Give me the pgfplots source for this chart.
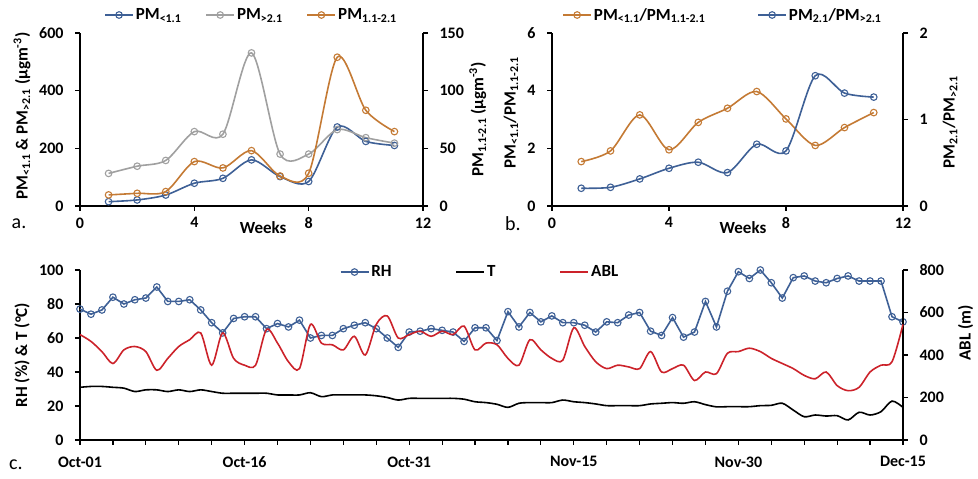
\documentclass[border=0pt]{standalone}
\usepackage{fontspec}
\setmainfont{Carlito}
\usepackage{pgfplots}
\usepackage{pgfplotstable}
\pgfplotsset{compat=1.18}

\definecolor{cblue}{RGB}{62,96,150}
\definecolor{cgray}{RGB}{160,160,160}
\definecolor{corange}{RGB}{196,122,52}
\definecolor{cred}{RGB}{204,34,42}
\newcommand\ff{\bfseries\fontsize{16}{19}\selectfont}
\newcommand\fl{\bfseries\fontsize{17}{20}\selectfont}

% day, RH (%), T (C), ABL (m)
\pgfplotstableread{
d rh t abl
0 77 31 496
1 74 31.5 464
2 76.5 31.5 416
3 84 31 360
4 80 30.5 424
5 82.5 28.5 440
6 83.5 29.5 416
7 90 29.5 328
8 81.5 28.5 384
9 81.5 29.5 440
10 82.5 28.5 472
11 76.5 29.5 504
12 69 28.5 352
13 63 27.5 504
14 71.5 27.5 384
15 72.5 27.5 352
16 72.5 27.5 352
17 65.5 27.5 520
18 68.5 26.5 456
19 66.5 26.5 368
20 70.5 26.5 336
21 60 27.8 544
22 61.5 25.5 456
23 61.5 26.5 448
24 65.5 26.5 424
25 67.5 26.5 488
26 69 26.5 400
27 65.5 26 544
28 60 25 584
29 54.5 23.5 480
30 63.5 24.5 496
31 64 24.5 512
32 65.5 24.5 488
33 64.5 24.5 512
34 63.5 24.5 496
35 58 24 536
36 66 22.5 424
37 66 22 456
38 58.5 21 448
39 75.5 19.2 384
40 66.5 21.6 352
41 75 22 472
42 69.5 22 424
43 73 22 384
44 69 23.5 376
45 69 22.5 528
46 67.5 22 440
47 63.5 21.2 368
48 69.5 20.2 336
49 69 20.2 352
50 73.5 20.2 344
51 75 20.2 336
52 64 21.2 416
53 61.5 21.6 320
54 72 22 336
55 60.5 21.6 352
56 63.5 22.5 280
57 81.5 20.8 320
58 66.5 19.5 312
59 87.5 19.6 408
60 99 19.6 416
61 95 19.6 432
62 100 20.2 416
63 92.5 20.4 384
64 83.5 21.6 360
65 95.5 17.6 336
66 96.5 13.7 304
67 93.5 14.7 288
68 92.5 14.1 320
69 95 14.3 256
70 96.5 11.8 232
71 93.5 16.3 248
72 93.5 14.7 320
73 93.5 16.7 352
74 72.5 22.9 368
75 69.5 19.2 544
}\meteo

\pgfplotsset{
  base/.style={scale only axis, anchor=south west, clip=false,
    tick align=outside, major tick length=5pt, minor tick length=5pt,
    tick style={black, line width=1.2pt},
    axis line style={black, line width=1.3pt, -},
    tick label style={font=\ff},
    /pgf/number format/assume math mode=true,
    every axis y label/.style={rotate=90, anchor=center, font=\fl},
    every axis x label/.style={anchor=center, font=\fl},
    xticklabel style={yshift=-3pt},
    legend style={font=\fl, draw=none, fill=none, anchor=center,
      /tikz/every even column/.append style={column sep=22pt}},
    legend image code/.code={\draw[mark repeat=2, mark phase=2, ##1]
      plot coordinates {(0pt,0pt) (14pt,0pt) (28pt,0pt)};}},
  leftax/.style={axis x line*=bottom, axis y line*=left,
    yticklabel style={xshift=-8pt}},
  rightax/.style={axis x line=none, axis y line*=right,
    yticklabel style={xshift=8pt}},
  ser/.style={color=#1, line width=1.6pt, mark=o, mark size=3.3pt,
    mark options={solid, line width=1.1pt}},
}

\begin{document}
\begin{tikzpicture}
\useasboundingbox (0,0) rectangle (978pt,479pt);

% ---------- a ----------
\begin{axis}[base, leftax, at={(80pt,273pt)}, width=343pt, height=173pt,
  xmin=0, xmax=12, ymin=0, ymax=600, xtick={0,4,8,12}, ytick={0,200,400,600},
  xlabel={Weeks}, xlabel style={at={(axis description cs:0.534,-0.125)}},
  ylabel={PM\textsubscript{<1.1} \& PM\textsubscript{>2.1} (µgm\textsuperscript{-3})},
  ylabel style={at={(axis description cs:-0.169,0.52)}}]
\addplot[ser=cblue, smooth] coordinates {(1,15) (2,21) (3,38) (4,79) (5,96) (6,160) (7,102) (8,85) (9,274) (10,224) (11,210)};
\addplot[ser=cgray, smooth] coordinates {(1,113) (2,138) (3,158) (4,258) (5,249) (6,531) (7,180) (8,180) (9,265) (10,237) (11,218)};
\end{axis}
\begin{axis}[base, rightax, at={(80pt,273pt)}, width=343pt, height=173pt,
  xmin=0, xmax=12, ymin=0, ymax=150, ytick={0,50,100,150},
  ylabel={PM\textsubscript{1.1-2.1} (µgm\textsuperscript{-3})},
  ylabel style={at={(axis description cs:1.16,0.5)}},
  legend columns=3, legend style={at={(axis description cs:0.5,1.104)}}]
\addlegendimage{ser=cblue}\addlegendentry{PM\textsubscript{<1.1}}
\addlegendimage{ser=cgray}\addlegendentry{PM\textsubscript{>2.1}}
\addplot[ser=corange, smooth] coordinates {(1,9.6) (2,11) (3,12.5) (4,38.5) (5,33) (6,48) (7,26) (8,28.4) (9,129) (10,83) (11,64.5)};
\addlegendentry{PM\textsubscript{1.1-2.1}}
\end{axis}

% ---------- b ----------
\begin{axis}[base, leftax, at={(552pt,273pt)}, width=351pt, height=173pt,
  xmin=0, xmax=12, ymin=0, ymax=6, xtick={0,4,8,12}, ytick={0,2,4,6},
  xlabel={Weeks}, xlabel style={at={(axis description cs:0.544,-0.125)}},
  ylabel={PM\textsubscript{<1.1}/PM\textsubscript{1.1-2.1}},
  ylabel style={at={(axis description cs:-0.117,0.538)}}]
\addplot[ser=corange, smooth] coordinates {(1,1.54) (2,1.91) (3,3.16) (4,1.95) (5,2.90) (6,3.39) (7,3.97) (8,3.02) (9,2.10) (10,2.72) (11,3.24)};
\end{axis}
\begin{axis}[base, rightax, at={(552pt,273pt)}, width=351pt, height=173pt,
  xmin=0, xmax=12, ymin=0, ymax=2, ytick={0,1,2},
  ylabel={PM\textsubscript{2.1}/PM\textsubscript{>2.1}},
  ylabel style={at={(axis description cs:1.134,0.486)}},
  legend columns=2, legend style={at={(axis description cs:0.487,1.104)},
    /tikz/every even column/.append style={column sep=50pt}}]
\addlegendimage{ser=corange}\addlegendentry{PM\textsubscript{<1.1}/PM\textsubscript{1.1-2.1}}
\addplot[ser=cblue, smooth] coordinates {(1,0.205) (2,0.216) (3,0.313) (4,0.436) (5,0.506) (6,0.386) (7,0.714) (8,0.637) (9,1.506) (10,1.305) (11,1.259)};
\addlegendentry{PM\textsubscript{2.1}/PM\textsubscript{>2.1}}
\end{axis}

% ---------- c ----------
\begin{axis}[base, leftax, at={(80pt,39pt)}, width=823pt, height=170pt,
  xmin=0, xmax=75, ymin=0, ymax=100, ytick={0,20,...,100},
  xtick={0,3,...,75},
  xticklabels={Oct-01,,,,,Oct-16,,,,,Oct-31,,,,,Nov-15,,,,,Nov-30,,,,,Dec-15},
  xticklabel style={yshift=-5pt},
  ylabel={RH (\%) \& T (°C)},
  ylabel style={at={(axis description cs:-0.0705,0.5)}}]
\addplot[ser=cblue] table[x=d, y=rh] {\meteo};
\addplot[black, line width=1.6pt, smooth] table[x=d, y=t] {\meteo};
\end{axis}
\begin{axis}[base, rightax, at={(80pt,39pt)}, width=823pt, height=170pt,
  xmin=0, xmax=75, ymin=0, ymax=800, ytick={0,200,...,800},
  ylabel={ABL (m)},
  ylabel style={at={(axis description cs:1.076,0.63)}},
  legend columns=3, legend style={at={(axis description cs:0.486,0.988)},
    /tikz/every even column/.append style={column sep=62pt}}]
\addlegendimage{ser=cblue}\addlegendentry{RH}
\addlegendimage{black, line width=1.6pt}\addlegendentry{T}
\addplot[cred, line width=1.6pt, smooth] table[x=d, y=abl] {\meteo};
\addlegendentry{ABL}
\end{axis}

\node[font=\fontsize{20}{22}\selectfont] at (19pt,255pt) {a.};
\node[font=\fontsize{20}{22}\selectfont] at (513pt,255pt) {b.};
\node[font=\fontsize{20}{22}\selectfont] at (16pt,14pt) {c.};
\end{tikzpicture}
\end{document}
